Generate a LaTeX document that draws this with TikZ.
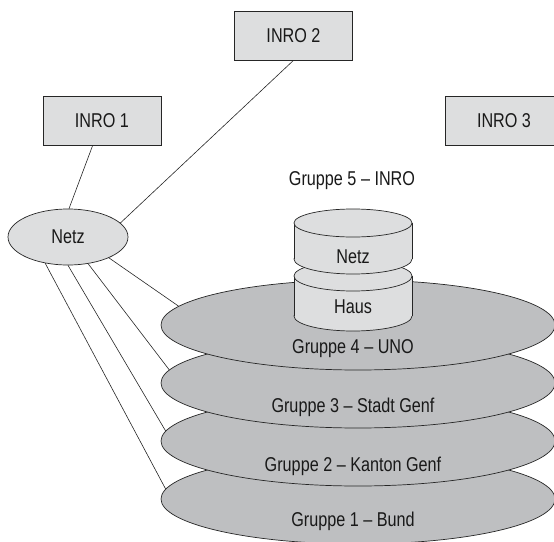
\documentclass[tikz,border=0pt]{standalone}
\usepackage{fontspec}
\setmainfont{Liberation Sans}[FakeStretch=0.81]
\usetikzlibrary{shapes.geometric}
\definecolor{boxgray}{RGB}{221,222,223}
\definecolor{discgray}{RGB}{190,191,193}
\begin{document}
\begin{tikzpicture}[x=1pt,y=-1pt,
  every node/.style={font=\fontsize{20}{23}\selectfont,text=black!90},
  inro/.style={draw=black!85,fill=boxgray,line width=0.7pt,minimum width=118pt,minimum height=49pt,inner sep=0pt},
  netzoval/.style={ellipse,draw=black!85,fill=boxgray,line width=0.7pt,minimum width=120pt,minimum height=56pt,inner sep=0pt},
  disc/.style={ellipse,draw=black!85,fill=discgray,line width=0.7pt,minimum width=394pt,minimum height=90pt,inner sep=0pt},
  cyl/.style={draw=black!85,fill=boxgray,line width=0.7pt},
  link/.style={draw=black!85,line width=0.6pt}]
\useasboundingbox (0,0) rectangle (554,541);
\clip (0,0) rectangle (554,541);

\node[inro] (inro1) at (102,120.5) {INRO 1};
\node[inro] (inro2) at (293.5,35.5) {INRO 2};
\node[inro] (inro3) at (504,121) {INRO 3};
\node[netzoval] (netz) at (68,237) {Netz};

\node[disc] (g1) at (358,499) {};
\node[disc] (g2) at (358,441) {};
\node[disc] (g3) at (358,383) {};
\node[disc] (g4) at (358,325) {};

\node (l1) at (353,521) {Gruppe 1 – Bund};
\node (l2) at (353,466) {Gruppe 2 – Kanton Genf};
\node (l3) at (353,407) {Gruppe 3 – Stadt Genf};
\node (l4) at (353,349) {Gruppe 4 – UNO};

\draw[cyl] (353,316) ellipse [x radius=59pt, y radius=15pt];
\fill[boxgray] (294,276) rectangle (412,316);
\draw[black!85,line width=0.7pt] (294,276) -- (294,316) (412,276) -- (412,316);
\draw[cyl] (353,276) ellipse [x radius=59pt, y radius=15pt];

\draw[cyl] (353,259) ellipse [x radius=59pt, y radius=15pt];
\fill[boxgray] (294,223) rectangle (412,259);
\draw[black!85,line width=0.7pt] (294,223) -- (294,259) (412,223) -- (412,259);
\draw[cyl] (353,223) ellipse [x radius=59pt, y radius=14pt];

\node (haus) at (353,307) {Haus};
\node (netz2) at (353,257) {Netz};
\node (g5) at (352,181) {Gruppe 5 – INRO};

\draw[link] (inro1) -- (netz.88);
\draw[link] (inro2.south) -- (netz.15);
\draw[link] (netz.-131) -- (g1.177);
\draw[link] (netz.south) -- (g2.177.5);
\draw[link] (netz.-53) -- (g3.176);
\draw[link] (netz.-27) -- (g4.174);
\end{tikzpicture}
\end{document}
